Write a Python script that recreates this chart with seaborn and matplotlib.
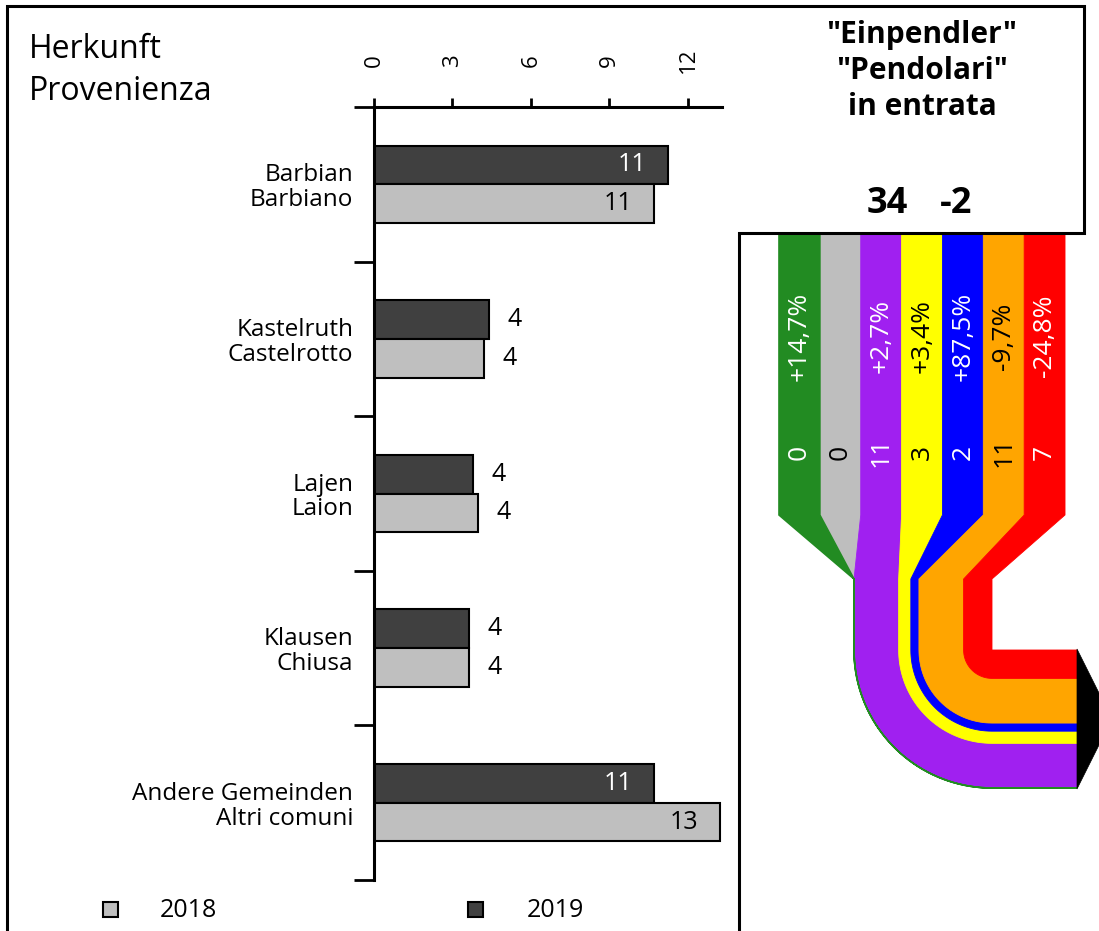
import numpy as np
import pandas as pd
import matplotlib
matplotlib.use("Agg")
import matplotlib.pyplot as plt
import seaborn as sns
from matplotlib.patches import Polygon, Rectangle

# ---------------- data ----------------
categories = ["Barbian\nBarbiano", "Kastelruth\nCastelrotto", "Lajen\nLaion",
              "Klausen\nChiusa", "Andere Gemeinden\nAltri comuni"]
years = ["2019", "2018"]
values_2019 = [11.23, 4.41, 3.79, 3.64, 10.69]
values_2018 = [10.69, 4.21, 3.98, 3.64, 13.22]
x_ticks = [0, 3, 6, 9, 12]

flow_values = [0, 0, 11, 3, 2, 11, 7]
flow_pct = ["+14,7%", "", "+2,7%", "+3,4%", "+87,5%", "-9,7%", "-24,8%"]
flow_colors = ["#228b22", "#bebebe", "#a020f0", "#ffff00", "#0000ff", "#ffa500", "#ff0000"]
flow_text_colors = ["white", "black", "white", "black", "white", "black", "white"]
total_in = 34
total_change = -2

title_lines = ['"Einpendler"', '"Pendolari"', "in entrata"]
year_colors = {"2019": "#404040", "2018": "#bfbfbf"}

# ---------------- style ----------------
sns.set_style("ticks")
plt.rcParams["font.family"] = ["Open Sans", "DejaVu Sans"]
for key in ["text.color", "axes.labelcolor", "xtick.color", "ytick.color",
            "axes.edgecolor", "xtick.labelcolor", "ytick.labelcolor"]:
    plt.rcParams[key] = "black"

W, H = 1099, 931
fig = plt.figure(figsize=(W / 100, H / 100), dpi=100)
fig.patch.set_facecolor("white")

# background overlay in pixel coordinates
bg = fig.add_axes([0, 0, 1, 1], zorder=0)
bg.set_xlim(0, W)
bg.set_ylim(H, 0)
bg.axis("off")

# ---------------- bar chart ----------------
ax = fig.add_axes([374 / W, 1 - 880 / H, 348 / W, 773 / H], zorder=2)
ax.set_facecolor("none")

df = pd.DataFrame({
    "cat": categories * 2,
    "year": ["2019"] * len(categories) + ["2018"] * len(categories),
    "value": values_2019 + values_2018,
})
sns.barplot(data=df, x="value", y="cat", hue="year", hue_order=years, order=categories,
            palette=year_colors, orient="h", width=0.5, gap=0, saturation=1,
            edgecolor="black", linewidth=1.5, legend=False, errorbar=None, ax=ax)

ax.set_xlim(0, 13.3)
ax.set_ylim(4.5, -0.5)
ax.set_xlabel("")
ax.set_ylabel("")

ax.xaxis.set_ticks_position("top")
ax.set_xticks(x_ticks)
ax.set_xticklabels([str(t) for t in x_ticks])
ax.tick_params(axis="x", top=True, bottom=False, labeltop=True, labelbottom=False,
               direction="out", length=6.5, width=2, pad=27, labelsize=16,
               labelrotation=90, color="black", labelcolor="black")
for lbl in ax.get_xticklabels():
    lbl.set_va("center")
    lbl.set_ha("center")

ax.set_yticks(range(len(categories)))
ax.set_yticklabels(categories, fontsize=17.5, linespacing=1.05, color="black")
ax.tick_params(axis="y", which="major", length=0, pad=15)
ax.set_yticks(np.arange(-0.5, len(categories), 1.0), minor=True)
ax.tick_params(axis="y", which="minor", length=14.4, width=2, direction="out",
               color="black")

for side in ["right", "bottom"]:
    ax.spines[side].set_visible(False)
for side in ["top", "left"]:
    ax.spines[side].set_linewidth(2.2)
    ax.spines[side].set_color("black")

for cont, yr in zip(ax.containers, years):
    for bar in cont:
        w = bar.get_width()
        yc = bar.get_y() + bar.get_height() / 2
        txt = f"{w:.0f}"
        if w > 8:
            col = "white" if yr == "2019" else "black"
            ax.annotate(txt, (w, yc), xytext=(-15.5, 0), textcoords="offset points",
                        ha="right", va="center", fontsize=18, color=col)
        else:
            ax.annotate(txt, (w, yc), xytext=(13, 0), textcoords="offset points",
                        ha="left", va="center", fontsize=18, color="black")

# ---------------- texts left ----------------
bg.text(29, 58, "Herkunft", fontsize=23, ha="left", va="baseline", color="black")
bg.text(29, 100, "Provenienza", fontsize=23, ha="left", va="baseline", color="black")

# legend
for cx_leg, tx_leg, yr in [(110, 160, "2018"), (475, 527, "2019")]:
    bg.add_patch(Rectangle((cx_leg - 7.5, 901.5), 15, 15, facecolor=year_colors[yr],
                           edgecolor="black", linewidth=1.5))
    bg.text(tx_leg, 917, yr, fontsize=18, ha="left", va="baseline", color="black")

# ---------------- flow diagram ----------------
col_left, col_w = 779.0, 40.86
y_top, y_col, y_taper, y_turn = 235.0, 515.0, 579.0, 650.0
cx, end_x = 992.0, 1077.0
scale = 138.0 / sum(flow_values)
l_start = cx - scale * sum(flow_values)

bands = []
cum = 0.0
for i, v in enumerate(flow_values):
    L = col_left + i * col_w
    R = L + col_w
    l = l_start + scale * cum
    r = l + scale * v
    cum += v
    Ro, Ri = cx - l, cx - r
    t = np.linspace(0, np.pi / 2, 40)
    outer = [(cx - Ro * np.cos(a), y_turn + Ro * np.sin(a)) for a in t]
    inner = [(cx - Ri * np.cos(a), y_turn + Ri * np.sin(a)) for a in t][::-1]
    pts = ([(L, y_top), (L, y_col), (l, y_taper), (l, y_turn)] + outer +
           [(end_x, y_turn + Ro), (end_x, y_turn + Ri)] + inner +
           [(r, y_turn), (r, y_taper), (R, y_col), (R, y_top)])
    bands.append((i, pts, L, R))

order = list(range(1, len(flow_values))) + [0]
for i in order:
    _, pts, L, R = bands[i]
    lw = 1.2 if i == 0 else 0.6
    bg.add_patch(Polygon(pts, closed=True, facecolor=flow_colors[i],
                         edgecolor=flow_colors[i], linewidth=lw, zorder=2))

for i, pts, L, R in bands:
    xc = (L + R) / 2
    if flow_pct[i]:
        bg.text(xc, 336, flow_pct[i], rotation=90, ha="center", va="center",
                fontsize=19, color=flow_text_colors[i], zorder=3)
    bg.text(xc, 452, str(flow_values[i]), rotation=90, ha="center", va="center",
            fontsize=19, color=flow_text_colors[i], zorder=3)

bg.add_patch(Polygon([(end_x, 649), (end_x, 789), (1112, 719)], closed=True,
                     facecolor="black", edgecolor="black", linewidth=0.5, zorder=3))

# frame
bg.plot([7, 7, 1084, 1084, 739, 739], [940, 6, 6, 233, 233, 940], color="black",
        linewidth=2.2, solid_joinstyle="miter", zorder=5)

# title
for k, line in enumerate(title_lines):
    bg.text(922, 43 + 36 * k, line, fontsize=21.5, fontweight="bold", ha="center",
            va="baseline", color="black", zorder=6)
bg.text(887, 213, str(total_in), fontsize=26, fontweight="bold", ha="center",
        va="baseline", color="black", zorder=6)
bg.text(956, 213, str(total_change), fontsize=26, fontweight="bold", ha="center",
        va="baseline", color="black", zorder=6)

fig.savefig("out.png", dpi=100, facecolor="white")
